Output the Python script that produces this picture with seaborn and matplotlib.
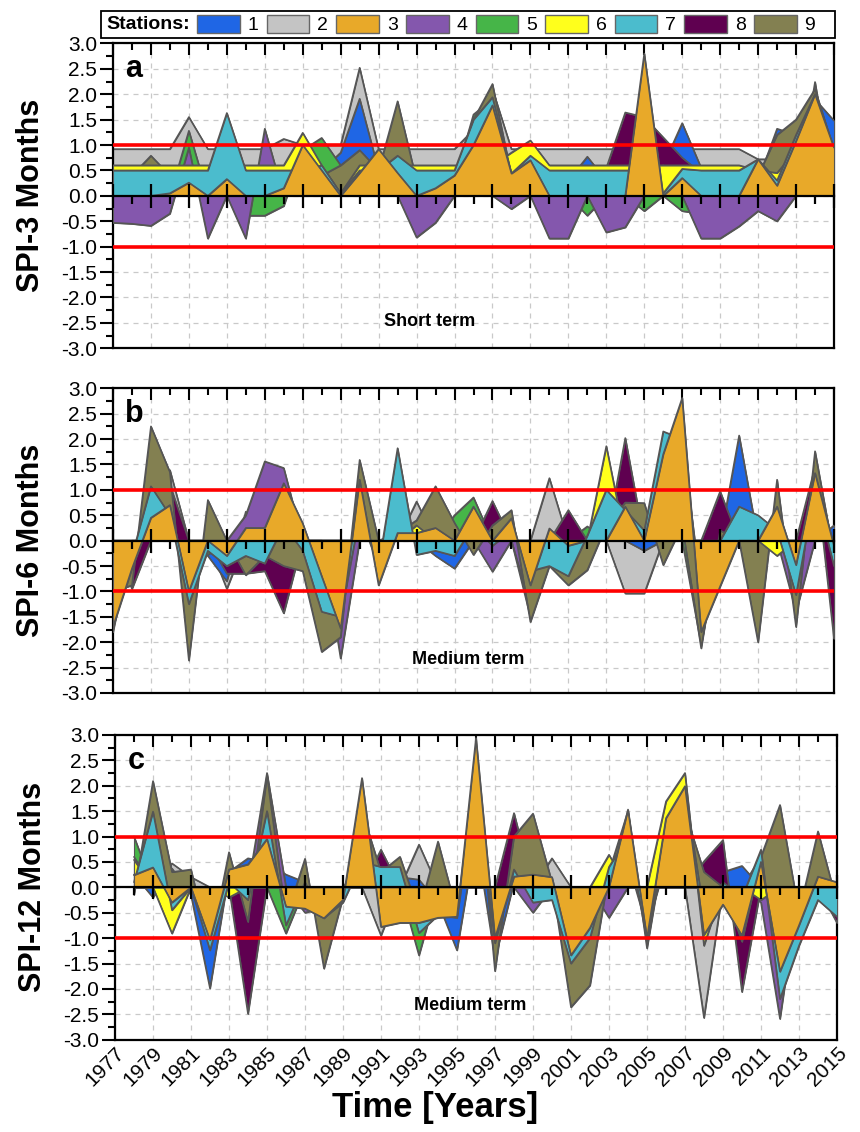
import numpy as np
import pandas as pd
import matplotlib
matplotlib.use("Agg")
import matplotlib.pyplot as plt
import seaborn as sns
from matplotlib.patches import Patch, Rectangle
from matplotlib.ticker import MultipleLocator, FormatStrFormatter

# ---------------- data ----------------
years_ab = list(range(1977, 2016))
years_c = list(range(1978, 2016))

stations = ["1", "2", "3", "4", "5", "6", "7", "8", "9"]
station_colors = ["#1f66e5", "#c4c4c4", "#e8a929", "#8457ad", "#46b548",
                  "#ffff1c", "#4bbccd", "#5f0050", "#838051"]
draw_order = ["2", "1", "5", "4", "8", "9", "6", "7", "3"]

# Panel a : SPI-3
a_s1 = [0.3,0.3,0.3,0.3,0.3,0.3,0.3,0.3,0.3,0.3,0.3,0.5,0.85,1.91,0.5,0.3,0.3,0.3,0.3,0.3,0.3,0.3,0.3,0.3,0.3,0.77,0.3,0.3,0.3,0.6,1.43,0.55,0.3,0.3,0.3,1.32,1.2,1.9,1.48]
a_s2 = [0.92,0.92,0.92,0.92,1.55,0.92,0.92,0.92,0.92,1.12,1.0,1.0,1.0,2.52,0.92,0.92,0.92,0.92,0.92,1.3,2.1,0.92,0.92,0.92,0.92,0.92,0.92,0.92,0.92,0.92,0.92,0.92,0.92,0.92,0.72,0.72,1.2,1.9,0.92]
a_s3 = [0,0,0,0.05,0.26,0,0.33,0,0,0.15,1.0,0.5,0,0.45,0.92,0.45,0,0.15,0.4,1.0,1.78,0.44,0.7,0,0,0,0,0,2.8,0,0.35,0,0,0,0.72,0.2,1.08,2.0,0.95]
a_s4 = [-0.53,-0.55,-0.59,-0.35,0.95,-0.84,0,-0.84,1.32,0,0,0,0,0,0,0,-0.82,-0.53,0,0,0,-0.26,0,-0.84,-0.84,0,-0.72,-0.62,0,0,0,-0.84,-0.84,-0.6,-0.3,-0.5,0,2.24,0]
a_s5 = [0,0,0,0,1.28,0,0,-0.39,-0.39,-0.2,0.9,1.14,0.6,0,0,0,0,0,0.3,1.6,1.9,0,0,0,0,-0.39,0,0,-0.3,0,-0.3,-0.35,0,0,-0.3,0,0,0,0]
a_s6 = [0.6,0.6,0.6,0.6,0.6,0.6,0.6,0.6,0.6,0.6,1.24,0.6,0.05,0.6,0.6,0.6,0.6,0.6,0.6,0.6,0.6,0.85,1.09,0.6,0.6,0.6,0.6,0.6,0.6,0.6,0.6,0.6,0.6,0.6,0.5,0.45,0.9,1.5,0.6]
a_s7 = [0.5,0.5,0.5,0.5,0.5,0.5,1.63,0.5,0.5,0.5,0.5,0.6,0.05,0.5,0.5,0.79,0.5,0.5,0.5,1.5,1.94,0.44,0.79,0.5,0.5,0.5,0.5,0.5,0.5,0.05,0.53,0.5,0.5,0.5,0.72,0.3,1.2,2.0,0.9]
a_s8 = [0,0,0,0,0,0,0,0,0,0,0,0,0,0,0,0,0,0,0,0,1.9,0,0,0,0,0,0.55,1.64,1.55,1.15,0.75,0.45,0,0,0,0,0,0,0]
a_s9 = [0.4,0.4,0.79,0.4,0.4,0.4,0.4,0.4,0.4,0.4,0.4,0.4,0.6,0.9,0.5,1.86,0.3,0.4,0.4,1.5,2.2,0.4,0.4,0.4,0.4,0.4,0.4,0.4,0.4,0.6,0.4,0.4,0.4,0.4,0.4,1.2,1.5,2.1,0.9]

# Panel b : SPI-6
b_s1 = [0,-0.55,0,0,0,-0.3,-0.8,0.57,0,0,0,0,0,0,0,0,0,-0.3,-0.55,0,0,0,0,0,0,0,0,0,-0.2,0,0,0,0,2.07,0,0,0,0,0.3]
b_s2 = [0,0,0,1.39,0,0,-0.95,0,0,0,0,0,0,0,0,0,0.77,0,0,0,0,0,0,1.23,0,0,0,-1.04,-1.04,0,0,0,0,0,0,0,0,0,0]
b_s3 = [-1.7,-0.55,0.45,0.7,-1.0,0.0,-0.3,0.25,0.25,1.13,0.34,-0.7,-1.73,1.2,-0.88,0.15,0.15,0.25,0.0,0.67,0.0,0.44,-0.88,0.24,-0.1,0.0,0.0,0.67,0.0,1.7,2.81,-1.8,-0.9,0.0,0.0,0.67,-0.48,1.33,-0.1]
b_s4 = [0,0,0,0,0,0,0,0.5,1.56,1.43,0,0,-2.32,0,0,0,0,0,0,0,-0.61,0,-1.3,0,0,0,0,0,0,0,0,0,0,0,0,0,-1.4,0,0]
b_s5 = [0,0,0,0,0,-0.28,0,0,0,0,0,0,0,0,0,0,0,0,0.5,0.85,0,0,-1.5,0,0,0.28,0,0,0,0,0,-2.05,0,0,0,0,0,0,0]
b_s6 = [-1.8,0,0,0,0,0,0,0,0,0,0,0,0,0,0,0,0.3,0,0,0,0,0,0,0,0,0,1.86,0,0,0,0,0,0,0,0,-0.3,0,0,0]
b_s7 = [-1.0,-0.3,1.07,0.5,-1.25,-0.2,-0.5,-0.3,-0.45,0.3,-0.2,-1.4,-1.5,0.5,-0.5,1.82,-0.28,-0.2,-0.3,0.3,-0.1,0.2,-0.6,-0.5,-0.7,0.1,1.0,0.6,0.2,2.15,2.0,-1.0,0.0,0.67,0.5,0.2,-1.07,1.0,-0.5]
b_s8 = [0,-0.95,0,1.1,0,0,-0.65,-0.65,-0.6,-1.43,0,0,0,0,0,0,0,1.0,0,0,0.78,0,0,0,0.6,0,0,2.02,0,0,0,0,0.97,0,0,0,0,1.45,-1.93]
b_s9 = [-1.0,-0.88,2.25,1.35,-2.36,0.8,0.0,-0.68,-0.3,-0.5,-0.6,-2.19,-1.9,1.59,0.0,0.15,0.4,1.07,0.35,-0.28,0.3,0.6,-1.6,-0.5,-0.88,-0.58,0.3,0.75,0.74,-0.48,0.3,-2.12,0.2,0.0,-2.0,1.2,-1.7,1.76,-0.3]

# Panel c : SPI-12 (starts 1978)
c_s1 = [0.25,-0.2,0.37,-0.15,-1.99,0.3,0.57,0.5,0.25,0.1,-0.3,0,0.5,0.4,0.2,0.15,-0.3,-1.24,1.0,-1.4,0.1,0.1,0.1,-0.9,-0.5,0.1,0.5,-0.8,0.5,0.5,0.1,0.3,0.42,0,-1.0,-0.5,0.1,-0.3]
c_s2 = [0,0,0.47,0.2,0,0,0,0,0,0,0,0,0,-0.95,0,0.84,0,0,0,0,0,0,0.57,0,0,0,0,0,0,0,-2.57,0,0,0.6,0,0,0,0]
c_s3 = [0.24,0.39,-0.3,0.0,-1.04,0.35,0.45,0.95,-0.38,-0.42,-0.61,-0.25,2.15,-0.78,-0.7,-0.7,-0.6,-0.58,2.94,-1.0,0.21,0.25,0.2,-1.34,-0.8,0.0,1.53,-1.0,1.36,1.99,-0.94,-0.34,-0.95,0.5,-1.66,-0.75,0.21,0.1]
c_s4 = [0.6,0,0,0,0,0,0,2.25,0,-0.5,-0.4,0,0,0,0,0,0,0,0,0,0,-0.5,0,0,0,-0.6,0,0,0,0,0,0,0,-0.3,-2.59,0,0,0]
c_s5 = [1.0,0,0,0,0,0,0,0,-0.91,0,0,0,0,0,0,-1.34,0,0,0,0,0,0,0,0,0,0,0,0,0,0,0,0,0,0,0,0,0,0]
c_s6 = [0.54,0,-0.91,0,0,-0.2,0,0,0,0,0,0,0,0,0,0,0,0,0,0,0,0,0,0,0,0.64,0,0,1.69,2.25,-1.15,0,0,-0.25,0,0,0,0]
c_s7 = [0.1,1.49,-0.45,0.0,-1.24,0.1,-0.25,1.5,-0.75,0.1,-0.6,-0.3,0.5,0.4,0.4,-0.9,-0.55,-0.6,2.0,-1.1,0.35,-0.3,-0.25,-1.5,-1.0,0.4,1.0,-1.05,1.3,1.9,-0.5,0.1,-0.2,0.74,-2.2,-1.15,-0.25,-0.58]
c_s8 = [0,0,0,0,0,0,-2.49,0,0,0,0,0,0,0.74,0,0,0,0,0,0,1.46,0,0,0,0,0,0,0,0,0,0.51,0.93,-2.06,0,0,0,0,-0.7]
c_s9 = [-0.15,2.09,0.3,0.35,-1.2,0.69,-0.68,2.2,-0.6,0.56,-1.6,-0.2,1.5,0.3,0.6,-0.5,0.9,-0.5,2.5,-1.65,1.0,1.45,0.1,-2.36,-1.93,0.3,1.5,-1.2,1.0,1.5,0.3,0.0,-1.07,0.6,1.62,-0.5,1.1,-0.3]

panel_letters = ["a", "b", "c"]
panel_ylabels = ["SPI-3 Months", "SPI-6 Months", "SPI-12 Months"]
panel_notes = ["Short term", "Medium term", "Medium term"]
xtick_years = list(range(1977, 2016, 2))


def long_frame(years, series_list):
    rows = []
    for st, vals in zip(stations, series_list):
        for yr, v in zip(years, vals):
            rows.append({"year": yr, "station": st, "spi": v})
    return pd.DataFrame(rows)


frames = [
    long_frame(years_ab, [a_s1, a_s2, a_s3, a_s4, a_s5, a_s6, a_s7, a_s8, a_s9]),
    long_frame(years_ab, [b_s1, b_s2, b_s3, b_s4, b_s5, b_s6, b_s7, b_s8, b_s9]),
    long_frame(years_c, [c_s1, c_s2, c_s3, c_s4, c_s5, c_s6, c_s7, c_s8, c_s9]),
]

# ---------------- style ----------------
sns.set_theme(style="ticks")
plt.rcParams["font.family"] = ["Liberation Sans", "DejaVu Sans"]
plt.rcParams["axes.unicode_minus"] = False
for key in ("text.color", "axes.labelcolor", "xtick.color", "ytick.color"):
    plt.rcParams[key] = "black"

W, H = 860, 1132
fig = plt.figure(figsize=(W / 100, H / 100), dpi=100)

# axes boxes in pixel coordinates: (left, top, right, bottom)
boxes = [(113, 43.4, 834, 348.3), (113, 388.3, 834, 693.0), (115, 734.9, 837, 1039.7)]
note_pos = [(1993.7, -2.48), (1995.7, -2.35), (1995.7, -2.32)]
cmap = dict(zip(stations, station_colors))
edge = "#555555"

for i, (df, box) in enumerate(zip(frames, boxes)):
    l, t, r, b = box
    ax = fig.add_axes([l / W, 1 - b / H, (r - l) / W, (b - t) / H])
    ax.set_facecolor("white")
    for k, st in enumerate(draw_order):
        sub = df[df["station"] == st]
        z = 2 + k * 2
        ax.fill_between(sub["year"].values, 0, sub["spi"].values,
                        facecolor=cmap[st], edgecolor=edge, linewidth=0.8, zorder=z)
        sns.lineplot(data=sub, x="year", y="spi", color=edge, linewidth=1.2,
                     ax=ax, legend=False, zorder=z + 0.5, sort=True)
    for yv in (1, -1):
        ax.axhline(yv, color="#ff0000", lw=2.6, zorder=40)

    ax.set_xlim(1977, 2015)
    ax.set_ylim(-3, 3)
    ax.set_xlabel("")
    ax.set_ylabel(panel_ylabels[i], fontsize=22, fontweight="bold")
    ax.yaxis.set_label_coords(-0.093, 0.5)

    ax.yaxis.set_major_locator(MultipleLocator(0.5))
    ax.yaxis.set_minor_locator(MultipleLocator(0.25))
    ax.yaxis.set_major_formatter(FormatStrFormatter("%.1f"))
    ax.set_xticks(xtick_years)
    ax.xaxis.set_minor_locator(MultipleLocator(1))

    ax.tick_params(axis="y", which="major", direction="out", length=9.5, width=1.5,
                   left=True, right=False, labelsize=15, pad=2, color="black")
    ax.tick_params(axis="y", which="minor", direction="out", length=5, width=1.5,
                   left=True, right=False, color="black")
    ax.tick_params(axis="x", which="major", direction="in", length=8.5, width=1.5,
                   top=True, bottom=False, labeltop=False,
                   labelbottom=(i == 2), labelsize=15, pad=3, color="black")
    ax.tick_params(axis="x", which="minor", direction="in", length=5, width=1.5,
                   top=True, bottom=False, color="black")
    if i == 2:
        for lab in ax.get_xticklabels():
            lab.set_rotation(45)
            lab.set_ha("right")
            lab.set_rotation_mode("anchor")

    ax.grid(True, which="major", linestyle=(0, (4, 4)), color="#c9c9c9", linewidth=0.9)
    ax.set_axisbelow(True)
    for sp in ax.spines.values():
        sp.set_visible(True)
        sp.set_color("black")
        sp.set_linewidth(1.6)

    # axis line at SPI = 0 with its own year ticks
    sec = ax.secondary_xaxis(0.5)
    sec.set_zorder(45)
    sec.set_xticks(xtick_years)
    sec.xaxis.set_minor_locator(MultipleLocator(1))
    sec.tick_params(which="major", direction="inout", length=17, width=1.6,
                    labeltop=False, labelbottom=False, color="black")
    sec.tick_params(which="minor", direction="in", length=6, width=1.6, color="black")
    for sp in sec.spines.values():
        sp.set_linewidth(1.6)
        sp.set_color("black")

    ax.text(0.017, 0.965, panel_letters[i], transform=ax.transAxes,
            fontsize=22, fontweight="bold", va="top", ha="left", zorder=60)
    nx, ny = note_pos[i]
    ax.text(nx, ny, panel_notes[i], fontsize=13, fontweight="bold",
            ha="center", va="center", zorder=60)

fig.text(435 / W, 1 - 1108 / H, "Time [Years]", fontsize=25, fontweight="bold",
         ha="center", va="center")

# legend strip
fig.patches.append(Rectangle((101 / W, 1 - 38 / H), (835 - 101) / W, 27 / H,
                             transform=fig.transFigure, fill=False,
                             edgecolor="black", linewidth=1.3))
fig.text(106 / W, 1 - 24.5 / H, "Stations:", fontsize=14, fontweight="bold",
         ha="left", va="center")
handles = [Patch(facecolor=c, edgecolor="#666666", linewidth=1.0) for c in station_colors]
fig.legend(handles=handles, labels=stations, ncol=9, loc="center left",
           bbox_to_anchor=(197 / W, 1 - 24.5 / H), frameon=False, fontsize=14,
           handlelength=2.2, handleheight=1.05, handletextpad=0.4,
           columnspacing=0.42, borderpad=0, borderaxespad=0)

fig.savefig("out.png", dpi=100, facecolor="white")
